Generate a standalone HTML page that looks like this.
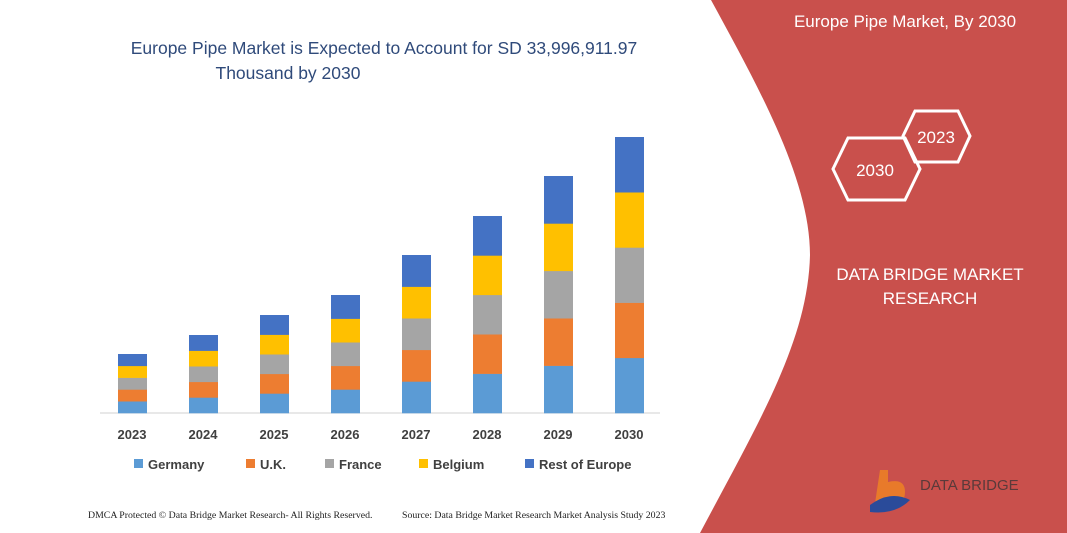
<!DOCTYPE html>
<html><head><style>
body{margin:0;width:1067px;height:533px;overflow:hidden;background:#fff;font-family:"Liberation Sans",sans-serif}
</style></head><body>
<svg width="1067" height="533" xmlns="http://www.w3.org/2000/svg" style="position:absolute;left:0;top:0">
<path d="M711,0 L1067,0 L1067,533 L700,533 C760,420 808,340 810,255 C810,180 760,90 711,0 Z" fill="#c9504c"/>
<g font-family="Liberation Sans,sans-serif">
<text x="384" y="54" font-size="17.5" fill="#2f4a7a" text-anchor="middle">Europe Pipe Market is Expected to Account for SD 33,996,911.97</text>
<text x="288" y="79" font-size="17.5" fill="#2f4a7a" text-anchor="middle">Thousand by 2030</text>
<text x="905" y="27" font-size="17" fill="#fff" text-anchor="middle">Europe Pipe Market, By 2030</text>
<polygon points="833,169 848,138 905,138 920,169 905,200 848,200" fill="none" stroke="#fff" stroke-width="3"/>
<polygon points="903,136 915,111 958,111 970,136 958,162 915,162" fill="none" stroke="#fff" stroke-width="3"/>
<text x="936" y="143" font-size="17" fill="#fff" text-anchor="middle">2023</text>
<text x="875" y="176" font-size="17" fill="#fff" text-anchor="middle">2030</text>
<text x="930" y="280" font-size="17" fill="#fff" text-anchor="middle">DATA BRIDGE MARKET</text>
<text x="930" y="304" font-size="17" fill="#fff" text-anchor="middle">RESEARCH</text>
<text x="920" y="490" font-size="15" fill="#5a3a3a">DATA BRIDGE</text>
<path d="M880,470 L888,470 L888,482 Q905,478 905,492 Q905,508 885,510 L874,510 Z" fill="#e87a2a"/>
<path d="M870,505 Q890,490 910,500 Q895,515 870,512 Z" fill="#2a4b9a"/>
<line x1="100" y1="413" x2="660" y2="413" stroke="#d0d0d0" stroke-width="1"/>
<g id="bars"></g>
<g font-size="13" font-weight="bold" fill="#404040" text-anchor="middle">
<text x="132" y="439">2023</text><text x="203" y="439">2024</text><text x="274" y="439">2025</text><text x="345" y="439">2026</text><text x="416" y="439">2027</text><text x="487" y="439">2028</text><text x="558" y="439">2029</text><text x="629" y="439">2030</text>
</g>
<g font-size="13" font-weight="bold" fill="#404040">
<rect x="134" y="459" width="9" height="9" fill="#5b9bd5"/><text x="148" y="469">Germany</text>
<rect x="246" y="459" width="9" height="9" fill="#ed7d31"/><text x="260" y="469">U.K.</text>
<rect x="325" y="459" width="9" height="9" fill="#a5a5a5"/><text x="339" y="469">France</text>
<rect x="419" y="459" width="9" height="9" fill="#ffc000"/><text x="433" y="469">Belgium</text>
<rect x="525" y="459" width="9" height="9" fill="#4472c4"/><text x="539" y="469">Rest of Europe</text>
</g>
<text x="88" y="518" font-size="9.8" font-family="Liberation Serif,serif" fill="#222">DMCA Protected © Data Bridge Market Research-  All Rights Reserved.</text>
<text x="402" y="518" font-size="9.8" font-family="Liberation Serif,serif" fill="#222">Source: Data Bridge Market Research  Market Analysis Study 2023</text>
</g>
</svg>
<script>
var tops=[354,335,315,295,255,216,176,137],cols=["#5b9bd5","#ed7d31","#a5a5a5","#ffc000","#4472c4"],g=document.getElementById("bars"),s="";
for(var i=0;i<8;i++){var x=118+71*i,h=(413-tops[i])/5;for(var k=0;k<5;k++){s+='<rect x="'+x+'" y="'+(413-h*(k+1))+'" width="29" height="'+(h+0.3)+'" fill="'+cols[k]+'"/>';}}
g.innerHTML=s;
</script>
</body></html>
